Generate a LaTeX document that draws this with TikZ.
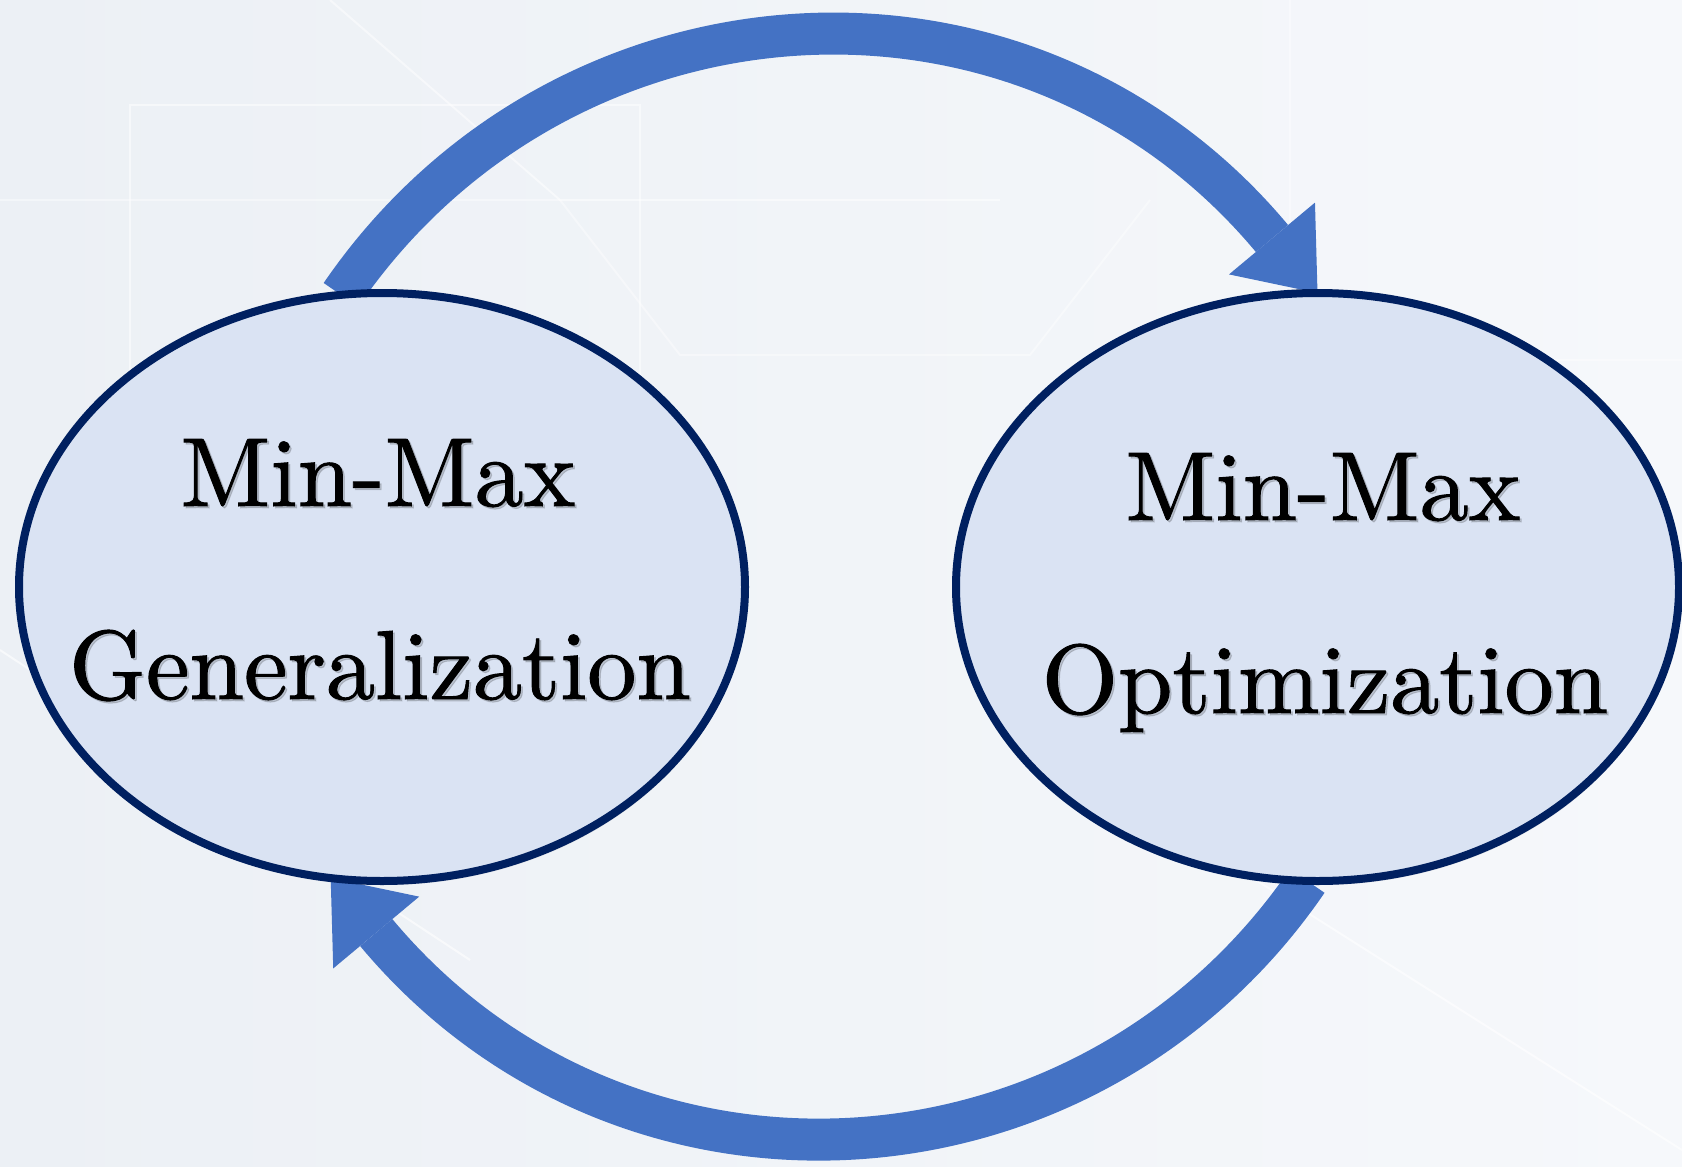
\documentclass[tikz,border=0pt]{standalone}
\usepackage{fontspec}
\newfontfamily\lblfont{lmroman10-regular.otf}[FakeBold=1]
\usetikzlibrary{arrows.meta,shapes.geometric,shadows}
\definecolor{arrowblue}{HTML}{4472C4}
\definecolor{ellfill}{HTML}{DAE3F3}
\definecolor{elldraw}{HTML}{002060}
\definecolor{bgA}{HTML}{ECF0F5}
\definecolor{bgB}{HTML}{F6F8FB}
\pgfdeclarelayer{back}
\pgfdeclarelayer{mid}
\pgfsetlayers{back,mid,main}
\begin{document}
\begin{tikzpicture}[x=1pt,y=-1pt,
  bubble/.style={ellipse, draw=elldraw, fill=ellfill, line width=8pt,
    minimum height=588pt, inner sep=0pt, outer sep=0pt,
    drop shadow={opacity=0.15, shadow xshift=2pt, shadow yshift=-4pt}},
  lbl/.style={anchor=base, font=\lblfont\fontsize{98}{98}\selectfont, text=black, inner sep=0pt, outer sep=0pt},
  lblshadow/.style={lbl, text=black, opacity=0.15},
  flow/.style={draw=arrowblue, line width=42pt, line cap=butt,
    -{Triangle[width=112pt,length=71pt,line width=0pt]}}]
\useasboundingbox (0,0) rectangle (1682,1167);
% background
\begin{pgfonlayer}{back}
  \shade[left color=bgA, right color=bgB] (0,0) rectangle (1682,1167);
  \draw[white, opacity=0.6, line width=2pt] (0,650) -- (470,960);
  \draw[white, opacity=0.6, line width=2pt] (1240,870) -- (1682,1150);
  \draw[white, opacity=0.5, line width=2pt] (330,0) -- (560,200) -- (1000,200);
  \draw[white, opacity=0.5, line width=2pt] (130,105) rectangle (640,610);
  \draw[white, opacity=0.4, line width=2pt] (1290,0) -- (1290,360) -- (1682,360);
  \draw[white, opacity=0.4, line width=2pt] (0,200) -- (560,200);
  \draw[white, opacity=0.4, line width=2pt] (560,200) -- (680,355) -- (1030,355) -- (1150,200);
\end{pgfonlayer}
% ellipses
\node[bubble, minimum width=726pt] (L) at (382,587) {};
\node[bubble, minimum width=723pt] (R) at (1317.5,587) {};
% labels
\node[lblshadow] (t1s) at (380,508) {Min-Max};
\node[lbl] (t1) at (378,506) {Min-Max};
\node[lblshadow] (t2s) at (382,701) {Generalization};
\node[lbl] (t2) at (380,699) {Generalization};
\node[lblshadow] (t3s) at (1325,522) {Min-Max};
\node[lbl] (t3) at (1323,520) {Min-Max};
\node[lblshadow] (t4s) at (1327,715) {Optimization};
\node[lbl] (t4) at (1325,713) {Optimization};
% connectors
\begin{pgfonlayer}{mid}
  \draw[flow] (L.98) .. controls +(220,-321) and +(-294,-352) .. (R.90);
  \draw[flow] (R.268) .. controls +(-220,321) and +(294,352) .. (L.260);
\end{pgfonlayer}
\end{tikzpicture}
\end{document}
